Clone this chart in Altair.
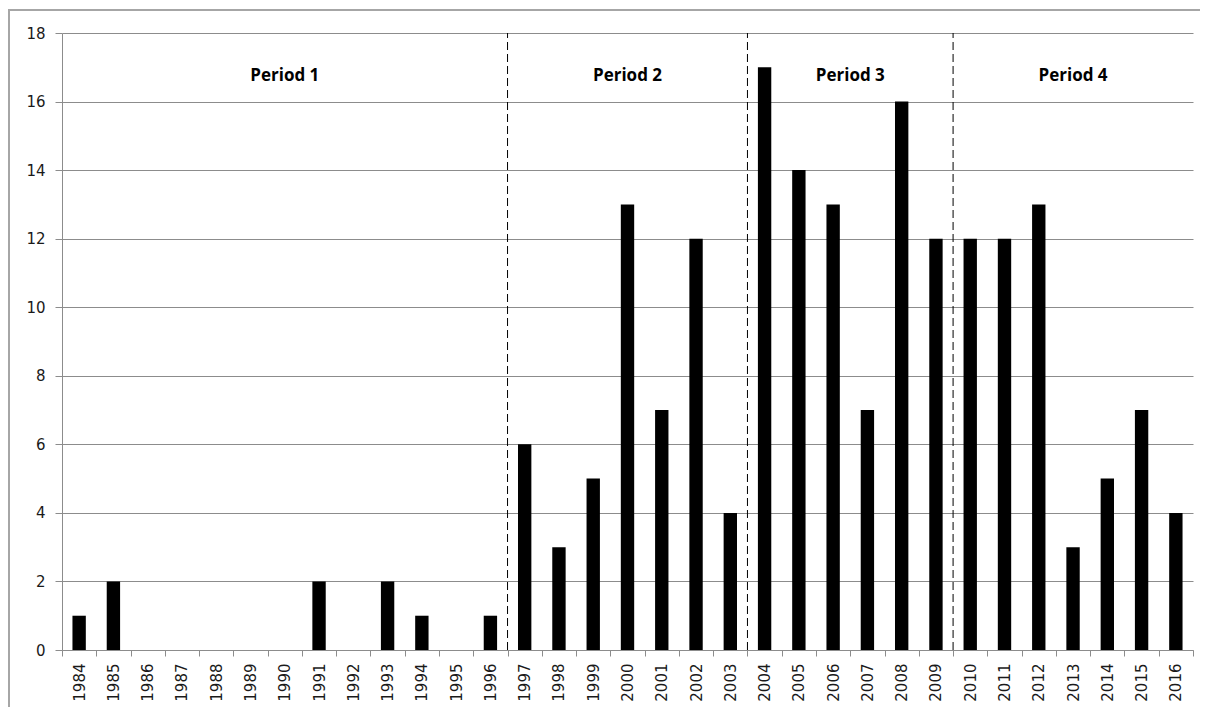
import altair as alt
import pandas as pd

years = ["1984", "1985", "1986", "1987", "1988", "1989", "1990", "1991", "1992",
         "1993", "1994", "1995", "1996", "1997", "1998", "1999", "2000", "2001",
         "2002", "2003", "2004", "2005", "2006", "2007", "2008", "2009", "2010",
         "2011", "2012", "2013", "2014", "2015", "2016"]
counts = [1, 2, 0, 0, 0, 0, 0, 2, 0, 2, 1, 0, 1,
          6, 3, 5, 13, 7, 12, 4,
          17, 14, 13, 7, 16, 12,
          12, 12, 13, 3, 5, 7, 4]
y_ticks = [0, 2, 4, 6, 8, 10, 12, 14, 16, 18]
period_names = ["Period 1", "Period 2", "Period 3", "Period 4"]
period_start = ["1984", "1997", "2004", "2010"]
period_end = ["1996", "2003", "2009", "2016"]
label_level = 16.75

df = pd.DataFrame({"year": years, "count": counts})

xscale = alt.Scale(domain=years, paddingInner=0, paddingOuter=0)
yscale = alt.Scale(domain=[0, 18], nice=False, zero=True)

AX_GRAY = "#8c8c8c"
LBL = "#1a1a1a"

xaxis = alt.Axis(tickBand="extent", labelAngle=270, labelAlign="right",
                 labelBaseline="middle", labelPadding=7, tickSize=6,
                 tickColor=AX_GRAY, domainColor=AX_GRAY, grid=False,
                 labelFont="DejaVu Sans", labelFontSize=15, labelColor=LBL,
                 title=None)
yaxis = alt.Axis(values=y_ticks, grid=True, gridColor=AX_GRAY, gridWidth=1,
                 tickSize=7, tickColor=AX_GRAY, domainColor=AX_GRAY,
                 labelPadding=10, labelFont="DejaVu Sans", labelFontSize=15,
                 labelColor=LBL, title=None)

bars = alt.Chart(df).mark_bar(color="black", width=alt.RelativeBandSize(0.39)).encode(
    x=alt.X("year:N", scale=xscale, sort=years, axis=xaxis),
    y=alt.Y("count:Q", scale=yscale, axis=yaxis),
)

bdf = pd.DataFrame({"year": period_start[1:]})
dividers = alt.Chart(bdf).mark_rule(color="black", strokeWidth=1, strokeDash=[8, 4]).encode(
    x=alt.X("year:N", bandPosition=0),
    y=alt.datum(0),
    y2=alt.datum(18),
)

label_layers = []
for name, s, e in zip(period_names, period_start, period_end):
    i0 = years.index(s)
    i1 = years.index(e) + 1
    c = (i0 + i1) / 2.0
    idx = int(c)
    bp = c - idx
    ldf = pd.DataFrame({"label": [name], "year": [years[idx]]})
    label_layers.append(
        alt.Chart(ldf).mark_text(font="Open Sans", fontWeight="bold", fontSize=17,
                                 color="black", baseline="middle", align="center").encode(
            x=alt.X("year:N", bandPosition=bp),
            y=alt.datum(label_level),
            text="label:N",
        )
    )

one = pd.DataFrame({"a": [0]})
frame_left = alt.Chart(one).mark_rule(color="#a6a6a6", strokeWidth=2).encode(
    x=alt.value(-53), y=alt.value(-23), y2=alt.value(674))
frame_top = alt.Chart(one).mark_rule(color="#a6a6a6", strokeWidth=2).encode(
    x=alt.value(-54), x2=alt.value(1138), y=alt.value(-23))

chart = alt.layer(bars, dividers, *label_layers, frame_left, frame_top).properties(
    width=1131, height=617,
    autosize=alt.AutoSizeParams(type="none"),
    padding={"left": 54, "top": 25, "right": 7, "bottom": 57},
    background="white",
).configure_view(stroke=None)

chart.save("out.html", embed_options={"renderer": "svg", "actions": False})
